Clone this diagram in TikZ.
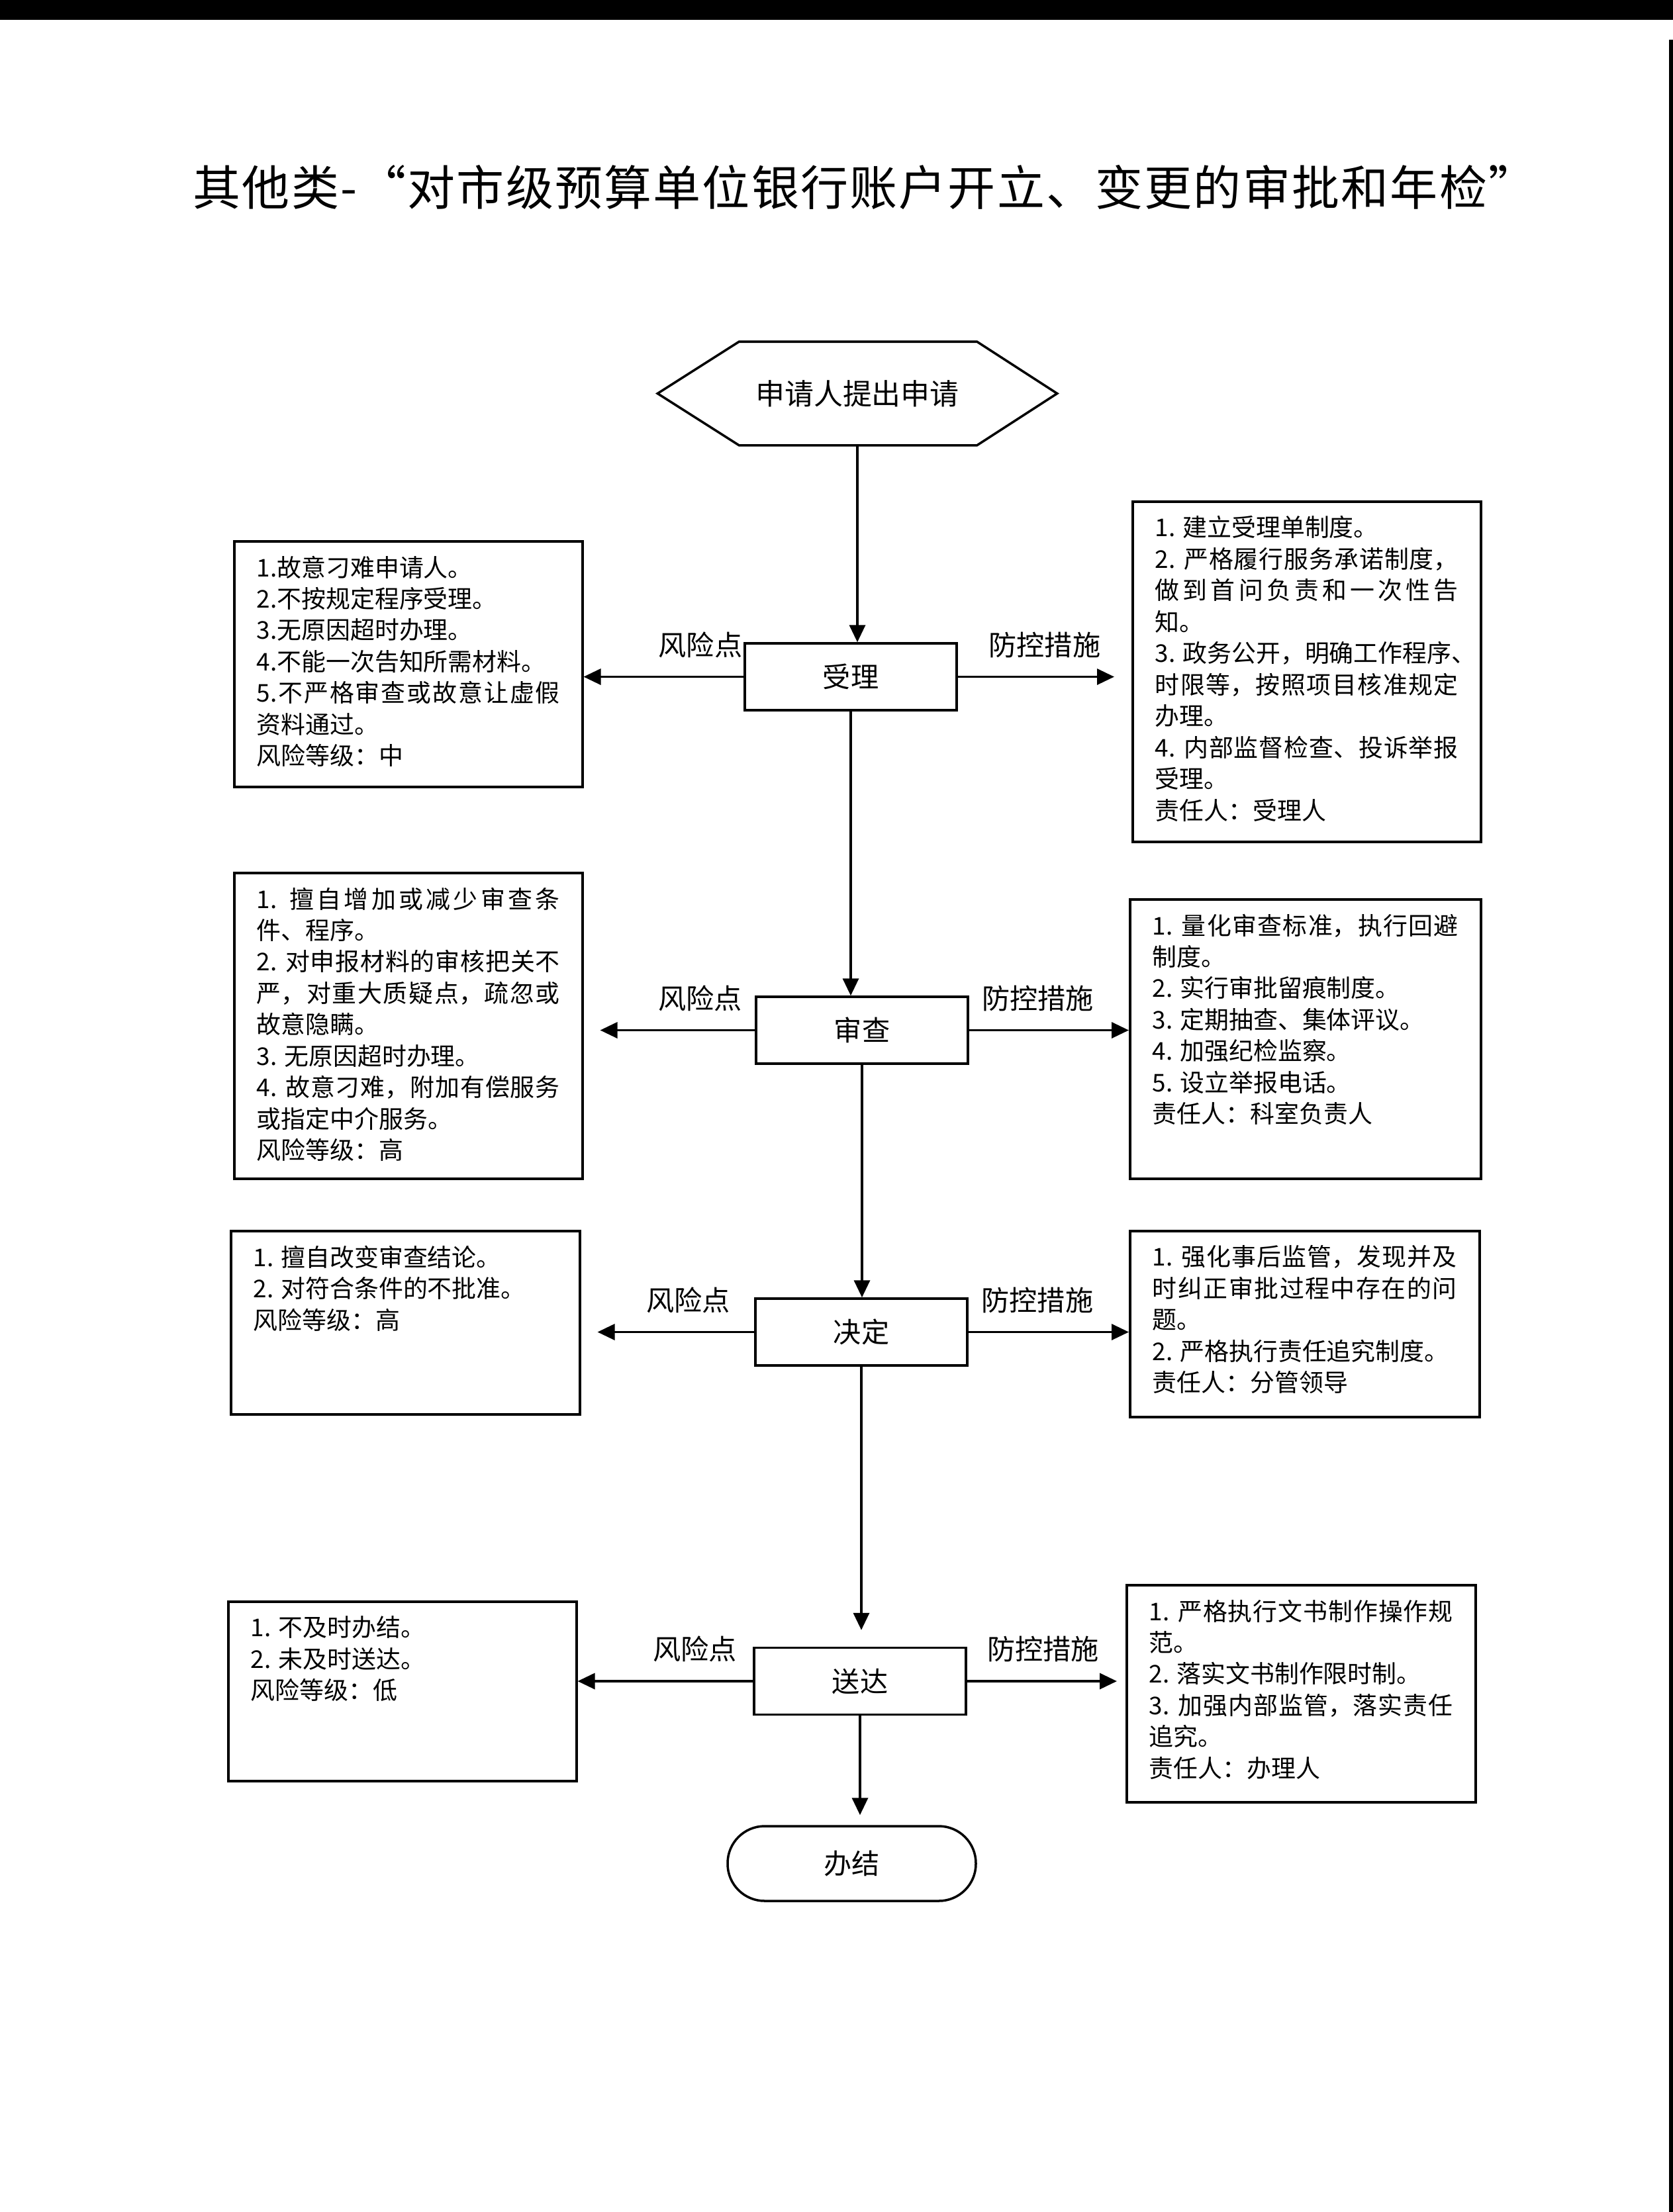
\documentclass[tikz,border=0pt]{standalone}
\usepackage{fontspec}
\setmainfont{Noto Sans CJK SC}
\newfontfamily\titlefont{Noto Sans CJK SC}[LetterSpace=3]
\usetikzlibrary{arrows.meta,positioning}
\XeTeXlinebreaklocale "zh"
\XeTeXlinebreakskip=0pt plus 2pt minus 0.6pt

% text of a side box: width, height (cm), lines
\newcommand{\sidetext}[3]{\parbox[t][\dimexpr #2cm-0.46cm\relax][t]{\dimexpr #1cm-0.68cm\relax}{\tolerance=9999\hbadness=10000\hfuzz=20pt\fontsize{10.5}{13.5}\selectfont #3}}

\tikzset{
	stepbox/.style={draw,line width=1pt,minimum width=3.2cm,minimum height=1.01cm,font=\fontsize{12}{14}\selectfont},
	sidebox/.style={draw,line width=1pt,anchor=north west,inner xsep=0.34cm,inner ysep=0.22cm},
	lbl/.style={font=\fontsize{12}{14}\selectfont,inner sep=0pt,above=0.27cm},
}

\begin{document}
\begin{tikzpicture}[x=1cm,y=-1cm,>={Triangle[length=0.26cm,width=0.24cm]},line width=1pt]

	\useasboundingbox (0,0) rectangle (25.27,33.42);
	\fill (0,0) rectangle (25.27,0.3);
	\fill (25.21,0.6) rectangle (25.27,33.42);

	\node[font=\titlefont\fontsize{20.5}{24}\selectfont] (title) at (13.06,2.83) {其他类-“对市级预算单位银行账户开立、变更的审批和年检”};

	\node[minimum width=6cm,minimum height=1.53cm,font=\fontsize{12.5}{14}\selectfont] (start) at (12.95,5.945) {申请人提出申请};
	\draw (start.west) -- ([xshift=1.23cm]start.north west) -- ([xshift=-1.21cm]start.north east) -- (start.east)
		-- ([xshift=-1.21cm]start.south east) -- ([xshift=1.23cm]start.south west) -- cycle;

	\node[stepbox] (shouli) at (12.85,10.225) {受理};
	\node[stepbox] (shencha) at (13.02,15.565) {审查};
	\node[stepbox] (jueding) at (13.01,20.125) {决定};
	\node[stepbox] (songda) at (12.99,25.40) {送达};
	\node[stepbox,rounded corners=0.56cm,minimum width=3.75cm,minimum height=1.13cm] (banjie) at (12.865,28.155) {办结};

	\node[sidebox] (risk1) at (3.52,8.16) {\sidetext{5.26}{3.73}{%
		1.故意刁难申请人。\par
		2.不按规定程序受理。\par
		3.无原因超时办理。\par
		4.不能一次告知所需材料。\par
		5.不严格审查或故意让虚假\linebreak 资料通过。\par
		风险等级：中}};
	\node[sidebox] (ctrl1) at (17.09,7.56) {\sidetext{5.26}{5.16}{%
		1. 建立受理单制度。\par
		2. 严格履行服务承诺制度，\linebreak 做到首问负责和一次性告\linebreak 知。\par
		\mbox{3. 政务公开，明确工作程序、}\linebreak 时限等，按照项目核准规定\linebreak 办理。\par
		4. 内部监督检查、投诉举报\linebreak 受理。\par
		责任人：受理人}};

	\node[sidebox] (risk2) at (3.52,13.17) {\sidetext{5.26}{4.64}{%
		1. 擅自增加或减少审查条\linebreak 件、程序。\par
		2. 对申报材料的审核把关不\linebreak 严，对重大质疑点，疏忽或\linebreak 故意隐瞒。\par
		3. 无原因超时办理。\par
		4. 故意刁难，附加有偿服务\linebreak 或指定中介服务。\par
		风险等级：高}};
	\node[sidebox] (ctrl2) at (17.05,13.57) {\sidetext{5.30}{4.24}{%
		1. 量化审查标准，执行回避\linebreak 制度。\par
		2. 实行审批留痕制度。\par
		3. 定期抽查、集体评议。\par
		4. 加强纪检监察。\par
		5. 设立举报电话。\par
		责任人：科室负责人}};

	\node[sidebox] (risk3) at (3.47,18.58) {\sidetext{5.27}{2.79}{%
		1. 擅自改变审查结论。\par
		2. 对符合条件的不批准。\par
		风险等级：高}};
	\node[sidebox] (ctrl3) at (17.05,18.58) {\sidetext{5.28}{2.83}{%
		1. 强化事后监管，发现并及\linebreak 时纠正审批过程中存在的问\linebreak 题。\par
		2. 严格执行责任追究制度。\par
		责任人：分管领导}};

	\node[sidebox] (risk4) at (3.43,24.18) {\sidetext{5.26}{2.73}{%
		1. 不及时办结。\par
		2. 未及时送达。\par
		风险等级：低}};
	\node[sidebox] (ctrl4) at (17.00,23.93) {\sidetext{5.27}{3.30}{%
		1. 严格执行文书制作操作规\linebreak 范。\par
		2. 落实文书制作限时制。\par
		3. 加强内部监管，落实责任\linebreak 追究。\par
		责任人：办理人}};

	\path[->]
		(start.south) edge (start.south |- shouli.north)
		(shouli.south) edge (shouli.south |- shencha.north)
		(shencha.south) edge (shencha.south |- jueding.north)
		(jueding.south) edge[shorten >=0.25cm] (jueding.south |- songda.north)
		(songda.south) edge[shorten >=0.15cm] (songda.south |- banjie.north);

	\path[->,every node/.style={lbl}]
		(shouli.west) edge node[pos=.27] {风险点} (shouli.west -| risk1.east)
		(shouli.east) edge[shorten >=0.26cm] node[pos=.5] {防控措施} (shouli.east -| ctrl1.west)
		(shencha.west) edge[shorten >=0.25cm] node[pos=.32] {风险点} (shencha.west -| risk2.east)
		(shencha.east) edge node[pos=.43] {防控措施} (shencha.east -| ctrl2.west)
		(jueding.west) edge[shorten >=0.25cm] node[pos=.38] {风险点} (jueding.west -| risk3.east)
		(jueding.east) edge node[pos=.43] {防控措施} (jueding.east -| ctrl3.west)
		(songda.west) edge node[pos=.33] {风险点} (songda.west -| risk4.east)
		(songda.east) edge[shorten >=0.13cm] node[pos=.48] {防控措施} (songda.east -| ctrl4.west);

\end{tikzpicture}
\end{document}
